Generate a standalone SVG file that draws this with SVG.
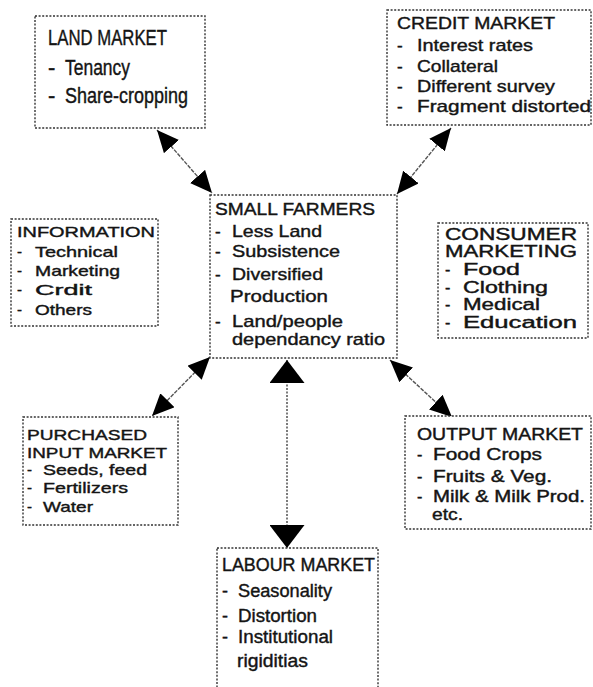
<svg xmlns="http://www.w3.org/2000/svg" width="593" height="687" viewBox="0 0 593 687">
<style>
.box{fill:#fff;stroke:#333;stroke-width:1.4;stroke-dasharray:2 1.6}
.t{font-family:"Liberation Sans",Arial,sans-serif;fill:#141414;stroke:#141414;stroke-width:0.4}
.con{stroke:#555;stroke-width:1.4;stroke-dasharray:4 1.2;fill:none}
.con-v{stroke:#444;stroke-width:1.4;stroke-dasharray:2 1.5;fill:none}
</style>
<defs>
<marker id="ah" viewBox="0 0 22 20" refX="22" refY="10" markerWidth="22" markerHeight="20" markerUnits="userSpaceOnUse" orient="auto-start-reverse"><path d="M0,0 L22,10 L0,20 Z" fill="#000"/></marker>
<marker id="ahBig" viewBox="0 0 23 35" refX="23" refY="17.5" markerWidth="23" markerHeight="35" markerUnits="userSpaceOnUse" orient="auto-start-reverse"><path d="M0,0 L23,17.5 L0,35 Z" fill="#000"/></marker>
</defs>
<rect width="593" height="687" fill="#fff"/>
<g id="connectors">
<line class="con" x1="157" y1="130" x2="212" y2="193" marker-start="url(#ah)" marker-end="url(#ah)"/>
<line class="con" x1="451" y1="128" x2="397" y2="194" marker-start="url(#ah)" marker-end="url(#ah)"/>
<line class="con" x1="210" y1="357" x2="152" y2="416" marker-start="url(#ah)" marker-end="url(#ah)"/>
<line class="con" x1="390" y1="360" x2="452" y2="417" marker-start="url(#ah)" marker-end="url(#ah)"/>
<line class="con-v" x1="287" y1="360" x2="287" y2="548" marker-start="url(#ahBig)" marker-end="url(#ahBig)"/>
</g>
<g id="land-market">
<rect class="box" x="35" y="16" width="170" height="112"/>
<text class="t" font-size="22" x="48" y="45" textLength="119" lengthAdjust="spacingAndGlyphs">LAND MARKET</text>
<text class="t" font-size="22" y="75"><tspan x="48">- </tspan><tspan x="65" textLength="65" lengthAdjust="spacingAndGlyphs">Tenancy</tspan></text>
<text class="t" font-size="22" y="103"><tspan x="48">- </tspan><tspan x="65" textLength="123" lengthAdjust="spacingAndGlyphs">Share-cropping</tspan></text>
</g>
<g id="credit-market">
<rect class="box" x="387" y="10" width="204" height="115"/>
<text class="t" font-size="17" x="397" y="29" textLength="158" lengthAdjust="spacingAndGlyphs">CREDIT MARKET</text>
<text class="t" font-size="17" y="51"><tspan x="397">- </tspan><tspan x="417" textLength="116" lengthAdjust="spacingAndGlyphs">Interest rates</tspan></text>
<text class="t" font-size="17" y="72"><tspan x="397">- </tspan><tspan x="417" textLength="81" lengthAdjust="spacingAndGlyphs">Collateral</tspan></text>
<text class="t" font-size="17" y="92"><tspan x="397">- </tspan><tspan x="417" textLength="138" lengthAdjust="spacingAndGlyphs">Different survey</tspan></text>
<text class="t" font-size="17" y="112"><tspan x="397">- </tspan><tspan x="417" textLength="174" lengthAdjust="spacingAndGlyphs">Fragment distorted</tspan></text>
</g>
<g id="information">
<rect class="box" x="11" y="219" width="147" height="107"/>
<text class="t" font-size="15" x="17" y="237" textLength="138" lengthAdjust="spacingAndGlyphs">INFORMATION</text>
<text class="t" font-size="15" y="257"><tspan x="17">- </tspan><tspan x="35" textLength="83" lengthAdjust="spacingAndGlyphs">Technical</tspan></text>
<text class="t" font-size="15" y="276"><tspan x="17">- </tspan><tspan x="35" textLength="85" lengthAdjust="spacingAndGlyphs">Marketing</tspan></text>
<text class="t" font-size="15" y="295"><tspan x="17">- </tspan><tspan x="35" textLength="57" lengthAdjust="spacingAndGlyphs">Crdit</tspan></text>
<text class="t" font-size="15" y="315"><tspan x="17">- </tspan><tspan x="35" textLength="57" lengthAdjust="spacingAndGlyphs">Others</tspan></text>
</g>
<g id="small-farmers">
<rect class="box" x="210" y="195" width="187" height="163"/>
<text class="t" font-size="17" x="215" y="215" textLength="160" lengthAdjust="spacingAndGlyphs">SMALL FARMERS</text>
<text class="t" font-size="17" y="237"><tspan x="215">- </tspan><tspan x="232" textLength="90" lengthAdjust="spacingAndGlyphs">Less Land</tspan></text>
<text class="t" font-size="17" y="257"><tspan x="215">- </tspan><tspan x="232" textLength="108" lengthAdjust="spacingAndGlyphs">Subsistence</tspan></text>
<text class="t" font-size="17" y="280"><tspan x="215">- </tspan><tspan x="232" textLength="91" lengthAdjust="spacingAndGlyphs">Diversified</tspan></text>
<text class="t" font-size="17" x="230" y="302" textLength="98" lengthAdjust="spacingAndGlyphs">Production</text>
<text class="t" font-size="17" y="327"><tspan x="215">- </tspan><tspan x="232" textLength="111" lengthAdjust="spacingAndGlyphs">Land/people</tspan></text>
<text class="t" font-size="17" x="232" y="345" textLength="153" lengthAdjust="spacingAndGlyphs">dependancy ratio</text>
</g>
<g id="consumer-marketing">
<rect class="box" x="438" y="223" width="150" height="115"/>
<text class="t" font-size="16" x="445" y="240" textLength="132" lengthAdjust="spacingAndGlyphs">CONSUMER</text>
<text class="t" font-size="16" x="445" y="257" textLength="132" lengthAdjust="spacingAndGlyphs">MARKETING</text>
<text class="t" font-size="16" y="275"><tspan x="445">- </tspan><tspan x="463" textLength="57" lengthAdjust="spacingAndGlyphs">Food</tspan></text>
<text class="t" font-size="16" y="293"><tspan x="445">- </tspan><tspan x="463" textLength="85" lengthAdjust="spacingAndGlyphs">Clothing</tspan></text>
<text class="t" font-size="16" y="310"><tspan x="445">- </tspan><tspan x="463" textLength="77" lengthAdjust="spacingAndGlyphs">Medical</tspan></text>
<text class="t" font-size="16" y="328"><tspan x="445">- </tspan><tspan x="463" textLength="114" lengthAdjust="spacingAndGlyphs">Education</tspan></text>
</g>
<g id="purchased-input-market">
<rect class="box" x="23" y="417" width="155" height="108"/>
<text class="t" font-size="15" x="27" y="440" textLength="120" lengthAdjust="spacingAndGlyphs">PURCHASED</text>
<text class="t" font-size="15" x="27" y="458" textLength="140" lengthAdjust="spacingAndGlyphs">INPUT MARKET</text>
<text class="t" font-size="15" y="475"><tspan x="27">- </tspan><tspan x="43" textLength="104" lengthAdjust="spacingAndGlyphs">Seeds, feed</tspan></text>
<text class="t" font-size="15" y="493"><tspan x="27">- </tspan><tspan x="43" textLength="85" lengthAdjust="spacingAndGlyphs">Fertilizers</tspan></text>
<text class="t" font-size="15" y="512"><tspan x="27">- </tspan><tspan x="43" textLength="50" lengthAdjust="spacingAndGlyphs">Water</tspan></text>
</g>
<g id="output-market">
<rect class="box" x="405" y="416" width="186" height="113"/>
<text class="t" font-size="16" x="417" y="440" textLength="166" lengthAdjust="spacingAndGlyphs">OUTPUT MARKET</text>
<text class="t" font-size="16" y="460"><tspan x="417">- </tspan><tspan x="433" textLength="109" lengthAdjust="spacingAndGlyphs">Food Crops</tspan></text>
<text class="t" font-size="16" y="482"><tspan x="417">- </tspan><tspan x="433" textLength="119" lengthAdjust="spacingAndGlyphs">Fruits &amp; Veg.</tspan></text>
<text class="t" font-size="16" y="502"><tspan x="417">- </tspan><tspan x="433" textLength="152" lengthAdjust="spacingAndGlyphs">Milk &amp; Milk Prod.</tspan></text>
<text class="t" font-size="16" x="432" y="520" textLength="31" lengthAdjust="spacingAndGlyphs">etc.</text>
</g>
<g id="labour-market">
<rect class="box" x="217" y="548" width="161" height="150"/>
<text class="t" font-size="18" x="222" y="571" textLength="153" lengthAdjust="spacingAndGlyphs">LABOUR MARKET</text>
<text class="t" font-size="18" y="597"><tspan x="222">- </tspan><tspan x="238" textLength="94" lengthAdjust="spacingAndGlyphs">Seasonality</tspan></text>
<text class="t" font-size="18" y="622"><tspan x="222">- </tspan><tspan x="238" textLength="79" lengthAdjust="spacingAndGlyphs">Distortion</tspan></text>
<text class="t" font-size="18" y="643"><tspan x="222">- </tspan><tspan x="238" textLength="95" lengthAdjust="spacingAndGlyphs">Institutional</tspan></text>
<text class="t" font-size="18" x="237" y="667" textLength="71" lengthAdjust="spacingAndGlyphs">rigiditias</text>
</g>
</svg>
